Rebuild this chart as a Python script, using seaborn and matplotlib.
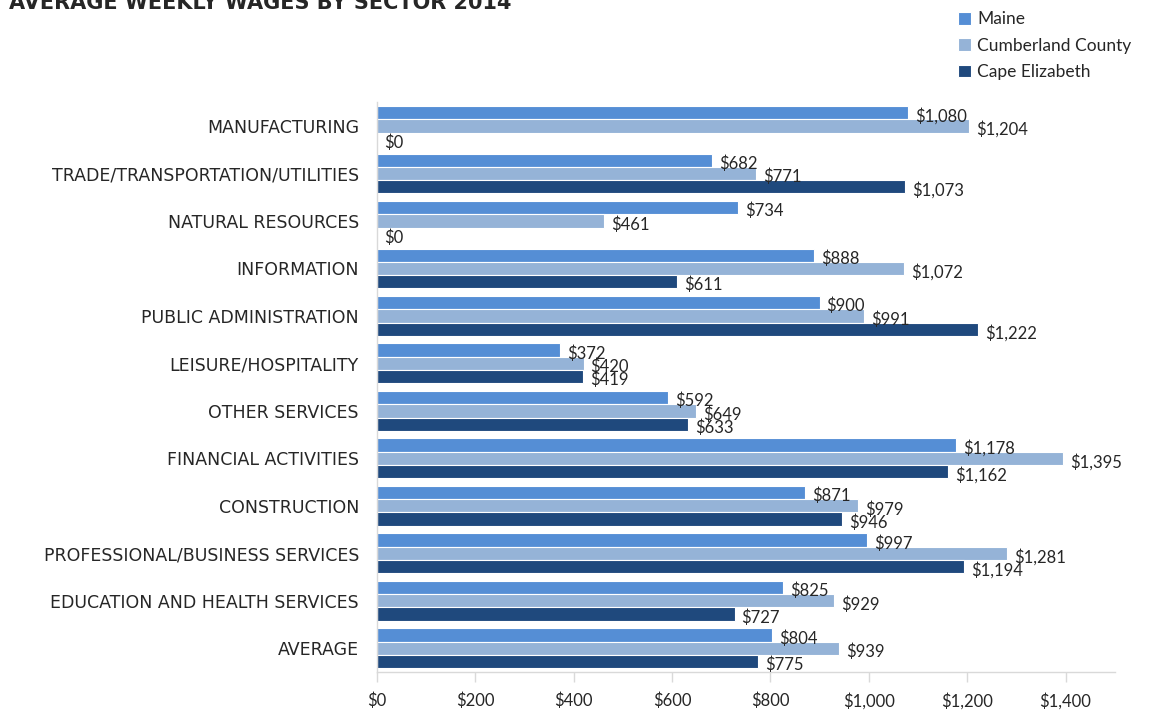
import matplotlib
matplotlib.use("Agg")
import matplotlib.pyplot as plt
import seaborn as sns
import pandas as pd

sectors = [
    "MANUFACTURING",
    "TRADE/TRANSPORTATION/UTILITIES",
    "NATURAL RESOURCES",
    "INFORMATION",
    "PUBLIC ADMINISTRATION",
    "LEISURE/HOSPITALITY",
    "OTHER SERVICES",
    "FINANCIAL ACTIVITIES",
    "CONSTRUCTION",
    "PROFESSIONAL/BUSINESS SERVICES",
    "EDUCATION AND HEALTH SERVICES",
    "AVERAGE",
]
maine = [1080, 682, 734, 888, 900, 372, 592, 1178, 871, 997, 825, 804]
cumberland = [1204, 771, 461, 1072, 991, 420, 649, 1395, 979, 1281, 929, 939]
cape = [0, 1073, 0, 611, 1222, 419, 633, 1162, 946, 1194, 727, 775]
regions = ["Maine", "Cumberland County", "Cape Elizabeth"]
colors = ["#558ED5", "#95B3D7", "#1F497D"]
xticks = [0, 200, 400, 600, 800, 1000, 1200, 1400]
title = "AVERAGE WEEKLY WAGES BY SECTOR 2014"

rows = []
for reg, vals in zip(regions, [maine, cumberland, cape]):
    for s, v in zip(sectors, vals):
        rows.append({"Sector": s, "Region": reg, "Wage": v})
df = pd.DataFrame(rows)

sns.set_theme(style="white")
plt.rcParams["font.family"] = ["Lato", "DejaVu Sans"]

fig = plt.figure(figsize=(11.51, 7.13), dpi=100)
ax = fig.add_axes([0.3275, 0.0575, 0.641, 0.799])

sns.barplot(data=df, y="Sector", x="Wage", hue="Region", order=sectors,
            hue_order=regions, palette=colors, saturation=1, orient="h",
            width=0.84, edgecolor="white", linewidth=0.8, errorbar=None, ax=ax)

for cont in ax.containers:
    for p in cont.patches:
        w = p.get_width()
        y = p.get_y() + p.get_height() / 2
        ax.annotate(f"${w:,.0f}", xy=(w, y), xytext=(5, -2.5),
                    textcoords="offset points", ha="left", va="center",
                    fontsize=12, color="#262626")

ax.set_xlim(0, 1500)
ax.set_xticks(xticks)
ax.set_xticklabels([f"${t:,}" for t in xticks], fontsize=12, color="#262626")
ax.set_ylabel("")
ax.set_xlabel("")
ax.tick_params(axis="y", length=0, pad=13, labelcolor="#262626")
ax.tick_params(axis="x", length=7, width=1, color="#D9D9D9", direction="out",
               pad=8, bottom=True)
for lab in ax.get_yticklabels():
    lab.set_fontfamily(["DejaVu Sans"])
    lab.set_fontsize(12.5)

for side in ["top", "right"]:
    ax.spines[side].set_visible(False)
ax.spines["left"].set_color("#D9D9D9")
ax.spines["bottom"].set_color("#D9D9D9")
ax.spines["left"].set_linewidth(1)
ax.spines["bottom"].set_linewidth(1)

handles, labels = ax.get_legend_handles_labels()
ax.get_legend().remove()
fig.legend(handles, labels, loc="upper left", bbox_to_anchor=(0.819, 1.006),
           frameon=False, fontsize=12.5, handlelength=0.75, handleheight=0.75,
           handletextpad=0.35, labelspacing=0.6, labelcolor="#262626")

fig.text(0.008, 0.987, title, fontsize=15, fontweight="bold", color="#262626",
         ha="left", va="baseline", family=["DejaVu Sans"])

fig.savefig("out.png", dpi=100)
